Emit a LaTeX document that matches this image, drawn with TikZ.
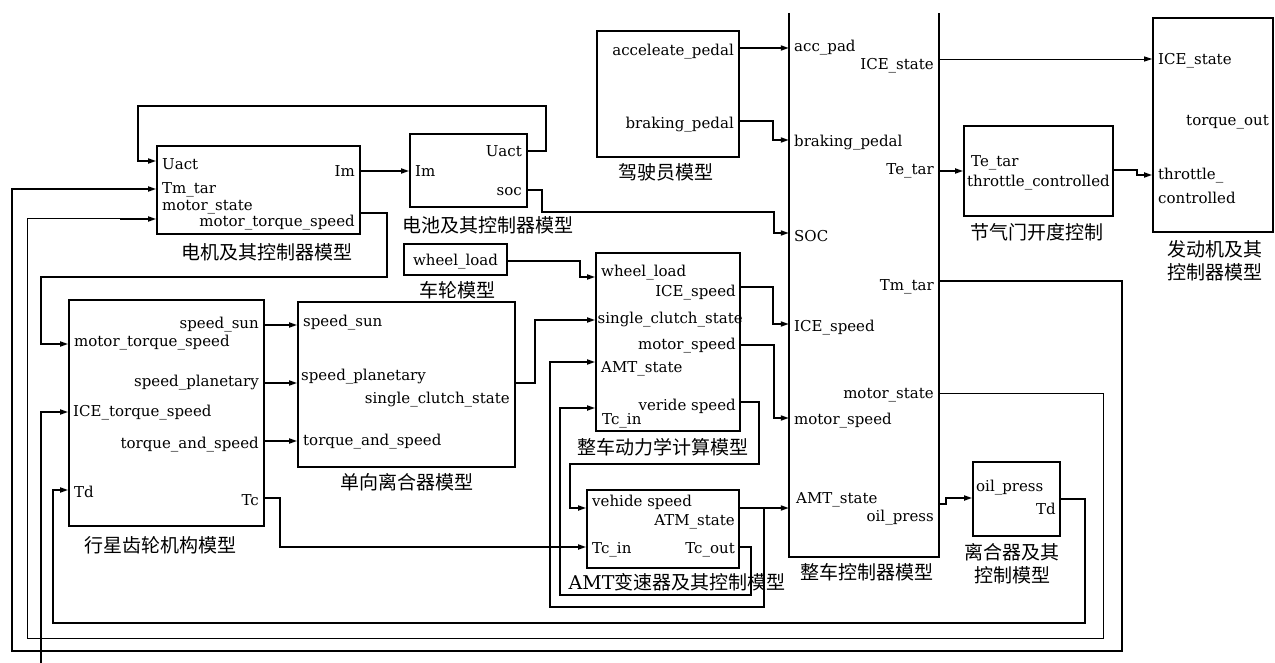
\documentclass[tikz,border=0pt]{standalone}
\usepackage{fontspec}
\newfontfamily\cjk{Noto Sans CJK SC}
\newfontfamily\lat{DejaVu Serif}
\usetikzlibrary{arrows.meta}
\tikzset{
  box/.style={draw, line width=1.7pt, inner sep=0pt},
  lbl/.style={font=\lat\fontsize{15}{17}\selectfont, inner sep=0pt},
  captxt/.style={font=\cjk\fontsize{19}{23}\selectfont, inner sep=0pt, align=center},
  wire/.style={line width=1.7pt},
  arr/.style={wire, -{Triangle[length=8pt,width=5pt]}},
  tarr/.style={line width=0.9pt, -{Triangle[length=8pt,width=5pt]}},
  twire/.style={line width=1.0pt},
}
\begin{document}
\begin{tikzpicture}[x=1pt,y=-1pt]
\useasboundingbox (0,0) rectangle (1275,663);
\fill[white] (0,0) rectangle (1275,663);

% ---------------- boxes ----------------
\node[box, minimum width=203pt, minimum height=88pt] (motor) at (258.5,190) {};
\node[box, minimum width=117pt, minimum height=73pt] (battery) at (468.5,170.5) {};
\node[box, minimum width=142pt, minimum height=126pt] (driver) at (668,94) {};
\node[inner sep=0pt, minimum width=150pt, minimum height=544pt] (vcu) at (864,285) {};
\draw[line width=1.7pt] (vcu.north west) -- (vcu.south west) -- (vcu.south east) -- (vcu.north east);
\node[box, minimum width=149pt, minimum height=90pt] (throttle) at (1038.5,171) {};
\node[box, minimum width=120pt, minimum height=214pt] (engine) at (1213,125) {};
\node[box, minimum width=87pt, minimum height=74pt] (clutch) at (1016.5,499) {};
\node[box, minimum width=144pt, minimum height=178pt] (veh) at (668,342) {};
\node[box, minimum width=103pt, minimum height=31pt] (wheel) at (455.5,259.5) {};
\node[box, minimum width=217pt, minimum height=165pt] (sclutch) at (406.5,384.5) {};
\node[box, minimum width=195pt, minimum height=226pt] (planet) at (166.5,413) {};
\node[box, minimum width=152pt, minimum height=78pt] (amt) at (663,529) {};

% ---------------- captions ----------------
\node[captxt] (cmotor) at (267,252) {电机及其控制器模型};
\node[captxt] (cbatt) at (488,225) {电池及其控制器模型};
\node[captxt] (cdriver) at (666,172) {驾驶员模型};
\node[captxt] (cvcu) at (867,572) {整车控制器模型};
\node[captxt] (cthr) at (1037,232) {节气门开度控制};
\node[captxt] (ceng) at (1215,261) {发动机及其\\控制器模型};
\node[captxt] (cclutch) at (1012,563.5) {离合器及其\\控制模型};
\node[captxt] (cveh) at (663,447) {整车动力学计算模型};
\node[captxt] (cwheel) at (457,290) {车轮模型};
\node[captxt] (csc) at (407,482) {单向离合器模型};
\node[captxt] (cplanet) at (160,545) {行星齿轮机构模型};
\node[captxt] (camt) at (677,582) {{\lat AMT}变速器及其控制模型};

% ---------------- port labels ----------------
% motor
\node[lbl, anchor=west] (m1) at (162,164) {Uact};
\node[lbl, anchor=east] (m2) at (355,171) {Im};
\node[lbl, anchor=west] (m3) at (162,190) {Tm\_tar};
\node[lbl, anchor=west] (m4) at (162,207) {motor\_state};
\node[lbl, anchor=east] (m5) at (355,223) {motor\_torque\_speed};
% battery
\node[lbl, anchor=east] (b1) at (522,151) {Uact};
\node[lbl, anchor=west] (b2) at (415,171) {Im};
\node[lbl, anchor=east] (b3) at (522,192) {soc};
% driver
\node[lbl, anchor=east] (d1) at (734,52) {acceleate\_pedal};
\node[lbl, anchor=east] (d2) at (734,125) {braking\_pedal};
% vcu
\node[lbl, anchor=west] (v1) at (794,48) {acc\_pad};
\node[lbl, anchor=west] (v2) at (794,143) {braking\_pedal};
\node[lbl, anchor=west] (v3) at (794,236) {SOC};
\node[lbl, anchor=west] (v4) at (794,328) {ICE\_speed};
\node[lbl, anchor=west] (v5) at (794,421) {motor\_speed};
\node[lbl, anchor=west] (v6) at (796,500) {AMT\_state};
\node[lbl, anchor=east] (v7) at (934,66) {ICE\_state};
\node[lbl, anchor=east] (v8) at (934,171) {Te\_tar};
\node[lbl, anchor=east] (v9) at (934,287) {Tm\_tar};
\node[lbl, anchor=east] (v10) at (934,395) {motor\_state};
\node[lbl, anchor=east] (v11) at (934,518) {oil\_press};
% throttle
\node[lbl, anchor=west] (t1) at (971,163) {Te\_tar};
\node[lbl, anchor=west] (t2) at (967,183) {throttle\_controlled};
% engine
\node[lbl, anchor=west] (e1) at (1158,61) {ICE\_state};
\node[lbl, anchor=east] (e2) at (1269,122) {torque\_out};
\node[lbl, anchor=west] (e3) at (1158,176) {throttle\_};
\node[lbl, anchor=west] (e4) at (1158,198) {controlled};
% clutch
\node[lbl, anchor=west] (k1) at (976,488) {oil\_press};
\node[lbl, anchor=east] (k2) at (1056,509) {Td};
% vehicle dynamics
\node[lbl, anchor=west] (h1) at (601,273) {wheel\_load};
\node[lbl, anchor=east] (h2) at (736,293) {ICE\_speed};
\node[lbl, anchor=west] (h3) at (597.5,320) {single\_clutch\_state};
\node[lbl, anchor=east] (h4) at (736,346) {motor\_speed};
\node[lbl, anchor=west] (h5) at (601,369) {AMT\_state};
\node[lbl, anchor=east] (h6) at (736,406) {veride speed};
\node[lbl, anchor=west] (h7) at (602,421) {Tc\_in};
% wheel
\node[lbl] (w1) at (455.5,262) {wheel\_load};
% single clutch
\node[lbl, anchor=west] (s1) at (303,323) {speed\_sun};
\node[lbl, anchor=west] (s2) at (301,377) {speed\_planetary};
\node[lbl, anchor=east] (s3) at (510,400) {single\_clutch\_state};
\node[lbl, anchor=west] (s4) at (303,442) {torque\_and\_speed};
% planetary
\node[lbl, anchor=east] (p1) at (259,325) {speed\_sun};
\node[lbl, anchor=west] (p2) at (74,343) {motor\_torque\_speed};
\node[lbl, anchor=east] (p3) at (259,383) {speed\_planetary};
\node[lbl, anchor=west] (p4) at (73,413) {ICE\_torque\_speed};
\node[lbl, anchor=east] (p5) at (259,445) {torque\_and\_speed};
\node[lbl, anchor=west] (p6) at (74,492) {Td};
\node[lbl, anchor=east] (p7) at (259,500) {Tc};
% amt
\node[lbl, anchor=west] (a1) at (592,502) {vehide speed};
\node[lbl, anchor=east] (a2) at (735,522) {ATM\_state};
\node[lbl, anchor=west] (a3) at (592,550) {Tc\_in};
\node[lbl, anchor=east] (a4) at (735,550) {Tc\_out};

% ---------------- connectors ----------------
\draw[arr] (motor.east |- 0,171) -- (battery.west |- 0,171);
\draw[arr] (battery.east |- 0,151) -- (546,151) -- (546,106) -- (138,106) -- (138,161) -- (motor.west |- 0,161);
\draw[arr] (motor.east |- 0,213) -- (387,213) -- (387,277) -- (41,277) -- (41,344) -- (planet.west |- 0,344);
\draw[arr] (battery.east |- 0,190) -- (542,190) -- (542,212) -- (774,212) -- (774,233) -- (vcu.west |- 0,233);
\draw[arr] (driver.east |- 0,48) -- (vcu.west |- 0,48);
\draw[arr] (driver.east |- 0,121) -- (773,121) -- (773,140) -- (vcu.west |- 0,140);
\draw[tarr] (vcu.east |- 0,59) -- (engine.west |- 0,59);
\draw[arr] (vcu.east |- 0,171) -- (throttle.west |- 0,171);
\draw[arr] (throttle.east |- 0,170) -- (1137,170) -- (1137,175) -- (engine.west |- 0,175);
\draw[arr] (vcu.east |- 0,281) -- (1122,281) -- (1122,651) -- (12,651) -- (12,189) -- (motor.west |- 0,189);
\draw[twire] (vcu.east |- 0,393) -- (1103,393) -- (1103,638) -- (27,638) -- (27,219) -- (120,219);
\draw[arr] (120,219) -- (motor.west |- 0,219);
\draw[arr] (vcu.east |- 0,504) -- (946,504) -- (946,498) -- (clutch.west |- 0,498);
\draw[arr] (clutch.east |- 0,499) -- (1085,499) -- (1085,623) -- (53,623) -- (53,490) -- (planet.west |- 0,490);
\coordinate (icein) at (41,663);
\draw[arr] (icein) -- (41,412) -- (planet.west |- 0,412);
\draw[arr] (planet.east |- 0,325) -- (sclutch.west |- 0,325);
\draw[arr] (planet.east |- 0,383) -- (sclutch.west |- 0,383);
\draw[arr] (planet.east |- 0,441) -- (sclutch.west |- 0,441);
\draw[arr] (planet.east |- 0,498) -- (280,498) -- (280,547) -- (amt.west |- 0,547);
\draw[arr] (wheel.east |- 0,261) -- (580,261) -- (580,277) -- (veh.west |- 0,277);
\draw[arr] (sclutch.east |- 0,383) -- (535,383) -- (535,320) -- (veh.west |- 0,320);
\draw[arr] (veh.east |- 0,287) -- (773,287) -- (773,324) -- (vcu.west |- 0,324);
\draw[arr] (veh.east |- 0,345) -- (774,345) -- (774,418) -- (vcu.west |- 0,418);
\draw[arr] (veh.east |- 0,402) -- (759,402) -- (759,464) -- (570,464) -- (570,508) -- (amt.west |- 0,508);
\draw[arr] (amt.east |- 0,508) -- (vcu.west |- 0,508);
\draw[arr] (764,508) -- (764,607) -- (550,607) -- (550,362) -- (veh.west |- 0,362);
\draw[arr] (amt.east |- 0,547) -- (751,547) -- (751,595) -- (560,595) -- (560,408) -- (veh.west |- 0,408);
\end{tikzpicture}
\end{document}
